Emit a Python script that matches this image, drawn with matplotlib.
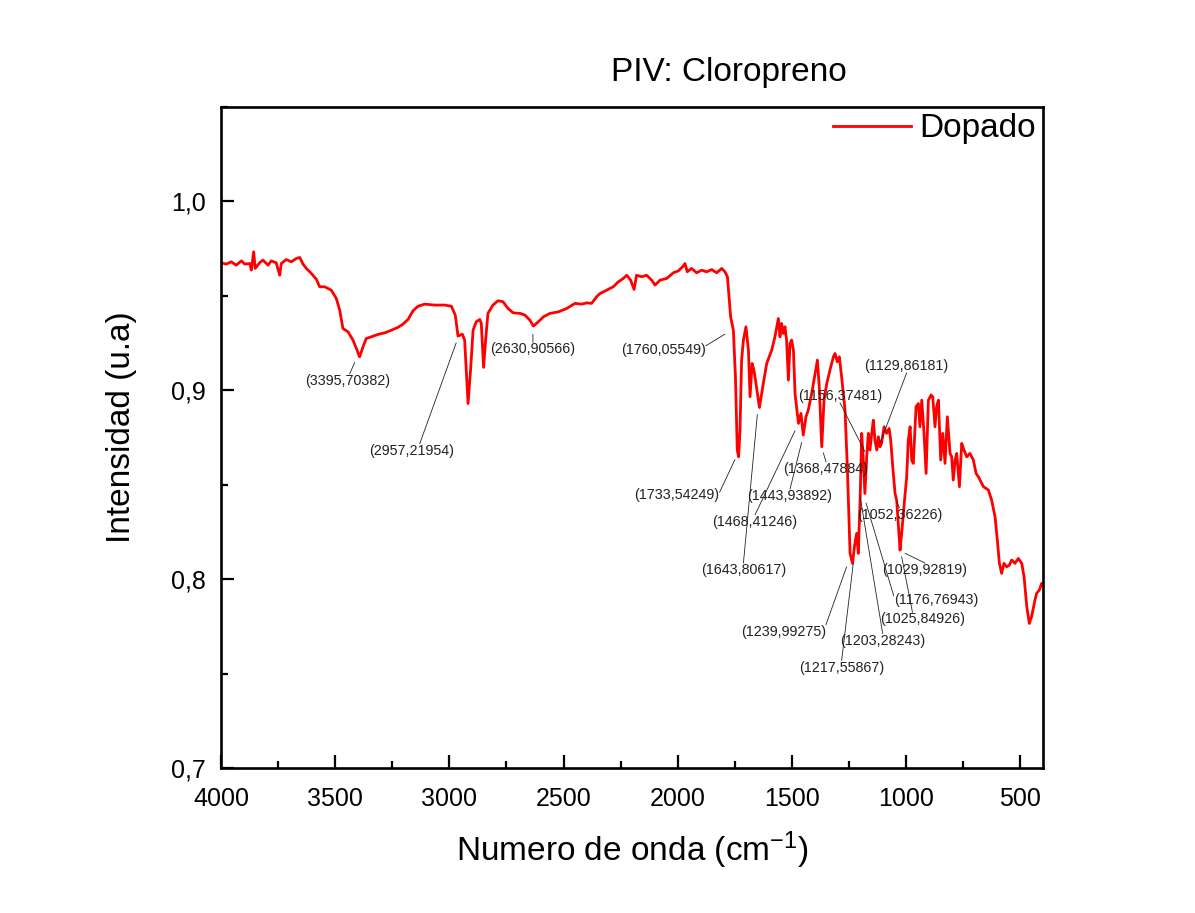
import matplotlib
matplotlib.use("Agg")
import matplotlib.pyplot as plt
from matplotlib.ticker import MultipleLocator, FuncFormatter

plt.rcParams['font.family'] = ['Liberation Sans', 'DejaVu Sans']
plt.rcParams['mathtext.fontset'] = 'custom'
plt.rcParams['mathtext.rm'] = 'Liberation Sans'
plt.rcParams['mathtext.it'] = 'Liberation Sans'

# FTIR spectrum: wavenumber (cm-1) and intensity (u.a)
wavenumber = [
    4000, 3977, 3955, 3933, 3911, 3896, 3874, 3867, 3857, 3850, 3831, 3816,
    3794, 3780, 3758, 3743, 3736, 3714, 3692, 3670, 3655, 3641, 3626, 3604,
    3582, 3568, 3546, 3517, 3495, 3480, 3466, 3444, 3422, 3407, 3393, 3378,
    3364, 3342, 3312, 3283, 3254, 3225, 3203, 3181, 3159, 3137, 3108, 3064,
    3020, 2991, 2974, 2962, 2943, 2933, 2918, 2907, 2896, 2882, 2867, 2860,
    2850, 2841, 2831, 2809, 2787, 2765, 2743, 2720, 2690, 2669, 2647, 2632,
    2610, 2588, 2559, 2523, 2486, 2450, 2420, 2398, 2377, 2355, 2340, 2311,
    2282, 2260, 2238, 2223, 2206, 2191, 2180, 2158, 2136, 2114, 2099, 2077,
    2048, 2019, 1997, 1978, 1968, 1958, 1939, 1917, 1895, 1873, 1851, 1829,
    1807, 1793, 1782, 1774, 1768, 1756, 1747, 1739, 1733, 1727, 1720, 1712,
    1701, 1690, 1683, 1674, 1666, 1657, 1642, 1625, 1610, 1588, 1574, 1559,
    1552, 1545, 1537, 1530, 1523, 1515, 1508, 1501, 1493, 1486, 1471, 1460,
    1450, 1438, 1428, 1413, 1398, 1388, 1380, 1369, 1359, 1347, 1333, 1318,
    1311, 1301, 1292, 1282, 1267, 1257, 1245, 1234, 1226, 1216, 1209, 1201,
    1194, 1187, 1180, 1172, 1165, 1158, 1150, 1143, 1136, 1128, 1121, 1114,
    1107, 1096, 1085, 1074, 1067, 1058, 1048, 1041, 1026, 1019, 1009, 997,
    990, 982, 975, 968, 956, 946, 939, 931, 921, 912, 902, 890,
    883, 873, 866, 858, 848, 839, 829, 819, 807, 800, 793, 785,
    778, 766, 756, 746, 734, 720, 705, 693, 683, 661, 639, 625,
    610, 600, 591, 581, 571, 559, 547, 537, 523, 508, 493, 483,
    471, 460, 450, 435, 428, 416, 406, 400,
]
intensity = [
    0.9674, 0.9667, 0.9679, 0.9661, 0.9684, 0.9667, 0.9670, 0.9635, 0.9732, 0.9644, 0.9674, 0.9688,
    0.9661, 0.9684, 0.9674, 0.9608, 0.9670, 0.9691, 0.9679, 0.9697, 0.9702, 0.9667, 0.9644, 0.9617,
    0.9586, 0.9547, 0.9547, 0.9529, 0.9485, 0.9423, 0.9326, 0.9309, 0.9265, 0.9220, 0.9176, 0.9229,
    0.9273, 0.9282, 0.9295, 0.9303, 0.9317, 0.9332, 0.9349, 0.9374, 0.9420, 0.9444, 0.9455, 0.9450,
    0.9450, 0.9444, 0.9397, 0.9286, 0.9296, 0.9265, 0.8929, 0.9106, 0.9317, 0.9362, 0.9374, 0.9353,
    0.9120, 0.9265, 0.9406, 0.9450, 0.9473, 0.9468, 0.9432, 0.9409, 0.9406, 0.9397, 0.9370, 0.9339,
    0.9362, 0.9388, 0.9406, 0.9414, 0.9432, 0.9459, 0.9455, 0.9462, 0.9459, 0.9494, 0.9511, 0.9529,
    0.9547, 0.9573, 0.9591, 0.9608, 0.9582, 0.9533, 0.9608, 0.9600, 0.9608, 0.9582, 0.9556, 0.9582,
    0.9591, 0.9621, 0.9631, 0.9653, 0.9670, 0.9626, 0.9644, 0.9621, 0.9635, 0.9626, 0.9638, 0.9621,
    0.9644, 0.9626, 0.9600, 0.9476, 0.9388, 0.9317, 0.9071, 0.8683, 0.8647, 0.8788, 0.9159, 0.9265,
    0.9335, 0.9212, 0.8965, 0.9141, 0.9106, 0.9035, 0.8908, 0.9035, 0.9141, 0.9212, 0.9282, 0.9379,
    0.9282, 0.9353, 0.9300, 0.9335, 0.9265, 0.9053, 0.9247, 0.9265, 0.9212, 0.8982, 0.8824, 0.8877,
    0.8762, 0.8859, 0.8894, 0.8982, 0.9088, 0.9159, 0.9018, 0.8700, 0.8947, 0.9035, 0.9106, 0.9176,
    0.9194, 0.9150, 0.9176, 0.9071, 0.8894, 0.8594, 0.8136, 0.8083, 0.8171, 0.8242, 0.8136, 0.8418,
    0.8771, 0.8630, 0.8453, 0.8647, 0.8771, 0.8683, 0.8771, 0.8841, 0.8735, 0.8683, 0.8753, 0.8700,
    0.8718, 0.8806, 0.8771, 0.8797, 0.8735, 0.8594, 0.8453, 0.8418, 0.8153, 0.8242, 0.8383, 0.8541,
    0.8735, 0.8806, 0.8630, 0.8612, 0.8912, 0.8929, 0.8806, 0.8947, 0.8771, 0.8559, 0.8947, 0.8974,
    0.8965, 0.8806, 0.8912, 0.8947, 0.8630, 0.8771, 0.8612, 0.8859, 0.8665, 0.8647, 0.8524, 0.8630,
    0.8665, 0.8489, 0.8718, 0.8683, 0.8647, 0.8665, 0.8630, 0.8559, 0.8541, 0.8489, 0.8471, 0.8418,
    0.8330, 0.8206, 0.8083, 0.8030, 0.8083, 0.8065, 0.8074, 0.8101, 0.8083, 0.8109, 0.8083, 0.8012,
    0.7854, 0.7765, 0.7801, 0.7889, 0.7924, 0.7942, 0.7977, 0.7970,
]

# Peak labels as printed on the chart, and the point each leader line reaches
peak_labels = [
    "(3395,70382)", "(2957,21954)", "(2630,90566)", "(1760,05549)",
    "(1733,54249)", "(1643,80617)", "(1468,41246)", "(1443,93892)",
    "(1368,47884)", "(1156,37481)", "(1129,86181)", "(1052,36226)",
    "(1029,92819)", "(1176,76943)", "(1025,84926)", "(1203,28243)",
    "(1239,99275)", "(1217,55867)",
]
peak_x = [3414, 2970, 2634, 1793, 1749, 1651, 1486, 1457, 1362, 1180,
          1114, 1041, 1004, 1175, 1019, 1201, 1260, 1231]
peak_y = [0.9147, 0.9250, 0.9296, 0.9296, 0.8633, 0.8871, 0.8785, 0.8723,
          0.8668, 0.8674, 0.8718, 0.8409, 0.8136, 0.8402, 0.8118, 0.8436,
          0.8065, 0.8083]

# Label placement (text centre) and the point on the label where the leader starts
label_x = [3444, 3167, 2634, 2063, 2003, 1712, 1661, 1508, 1350, 1289,
           997, 1029, 917, 869, 927, 1102, 1537, 1282]
label_y = [0.9049, 0.8679, 0.9215, 0.9212, 0.8444, 0.8048, 0.8303, 0.8439,
           0.8582, 0.8970, 0.9129, 0.8339, 0.8048, 0.7889, 0.7787, 0.7674,
           0.7721, 0.7531]
leader_rel = [(0.52, 1), (0.6, 1), (0.5, 1), (1.0, 0.8), (1.0, 0.7),
              (0.5, 1), (0.5, 1), (0.5, 1), (0.5, 1), (0.5, 0), (0.5, 0),
              (0.5, 1), (0.5, 1), (0.0, 0.8), (0.38, 1), (0.5, 1),
              (1.0, 1.0), (0.5, 1)]

W, H = 1195, 913
fig = plt.figure(figsize=(W / 100, H / 100), dpi=100)
ax = fig.add_axes([221 / W, 1 - 768 / H, (1043 - 221) / W, (768 - 106.7) / H])

ax.plot(wavenumber, intensity, color='#ff0000', lw=2.0, label='Dopado')

for lab, px, py, tx, ty, rel in zip(peak_labels, peak_x, peak_y,
                                     label_x, label_y, leader_rel):
    ax.annotate(lab, xy=(px, py), xytext=(tx, ty), textcoords='data',
                ha='center', va='center', fontsize=10.3, color='#222222',
                arrowprops=dict(arrowstyle='-', color='#222222', lw=0.6,
                                relpos=rel, shrinkA=0, shrinkB=0,
                                patchA=None))

ax.set_xlim(4000, 400)
ax.set_ylim(0.7, 1.05)
ax.set_xticks([4000, 3500, 3000, 2500, 2000, 1500, 1000, 500])
ax.set_yticks([0.7, 0.8, 0.9, 1.0])
ax.xaxis.set_minor_locator(MultipleLocator(250))
ax.yaxis.set_minor_locator(MultipleLocator(0.05))
ax.yaxis.set_major_formatter(FuncFormatter(lambda v, p: f"{v:.1f}".replace('.', ',')))

ax.tick_params(which='both', direction='in', top=False, right=False, width=1.6)
ax.tick_params(which='major', length=9.5)
ax.tick_params(which='minor', length=5)
ax.tick_params(axis='x', which='major', labelsize=18, pad=14)
ax.tick_params(axis='y', which='major', labelsize=18, pad=11)
for s in ax.spines.values():
    s.set_linewidth(1.9)

ax.set_xlabel(r'Numero de onda (cm$^{\mathrm{-1}}$)', fontsize=24, labelpad=13)
ax.set_ylabel('Intensidad (u.a)', fontsize=24)
ax.yaxis.set_label_coords(-0.102, 0.516)

ax.legend(loc='upper right', frameon=False, fontsize=24, handlelength=2.35,
          handletextpad=0.25, borderaxespad=0, borderpad=0.2)

fig.text(729 / W, 1 - 73 / H, 'PIV: Cloropreno', ha='center', va='center', fontsize=24)

fig.savefig('out.png', dpi=100, facecolor='white')
